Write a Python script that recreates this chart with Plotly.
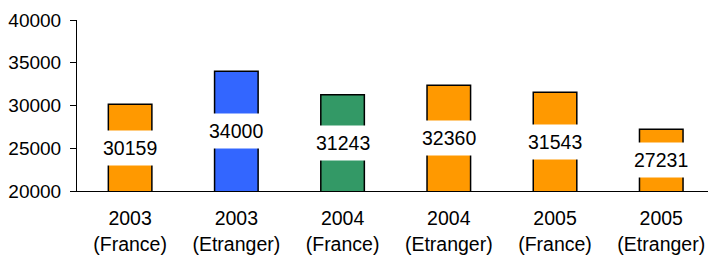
import plotly.graph_objects as go

categories = ["2003<br>(France)", "2003<br>(Etranger)", "2004<br>(France)",
              "2004<br>(Etranger)", "2005<br>(France)", "2005<br>(Etranger)"]
values = [30159, 34000, 31243, 32360, 31543, 27231]
colors = ["#FF9900", "#3366FF", "#339966", "#FF9900", "#FF9900", "#FF9900"]
y_min, y_max = 20000, 40000

FONT = "Liberation Sans, Arial, sans-serif"
FS = 19.5

fig = go.Figure()
fig.add_trace(go.Bar(
    x=list(range(len(categories))), y=values,
    marker=dict(color=colors, line=dict(color="#000000", width=1.5)),
    width=0.41, hoverinfo="skip",
))

for i, v in enumerate(values):
    fig.add_annotation(
        x=i, y=(v + y_min) / 2, text=str(v), showarrow=False,
        font=dict(family=FONT, size=FS, color="#000000"),
        bgcolor="#FFFFFF", borderpad=6,
    )

fig.update_layout(
    width=708, height=255,
    margin=dict(l=77, r=0, t=20, b=64),
    paper_bgcolor="#FFFFFF", plot_bgcolor="#FFFFFF",
    showlegend=False,
    font=dict(family=FONT, size=FS, color="#000000"),
    xaxis=dict(
        range=[-0.5, 5.44], tickmode="array",
        tickvals=list(range(len(categories))), ticktext=categories,
        showline=True, linecolor="#000000", linewidth=1,
        showgrid=False, zeroline=False, ticks="",
        ticklabelstandoff=10, automargin=False,
    ),
    yaxis=dict(
        range=[y_min, y_max], dtick=5000, tick0=0, tickformat="d",
        showline=True, linecolor="#000000", linewidth=1,
        ticks="outside", ticklen=6, tickcolor="#000000",
        tickfont=dict(size=19),
        showgrid=False, zeroline=False, ticklabelstandoff=5,
        automargin=False,
    ),
)

fig.write_html(
    "out.html",
    config={"displayModeBar": False},
    post_script="document.body.style.margin='0';document.body.style.overflow='hidden';",
)
